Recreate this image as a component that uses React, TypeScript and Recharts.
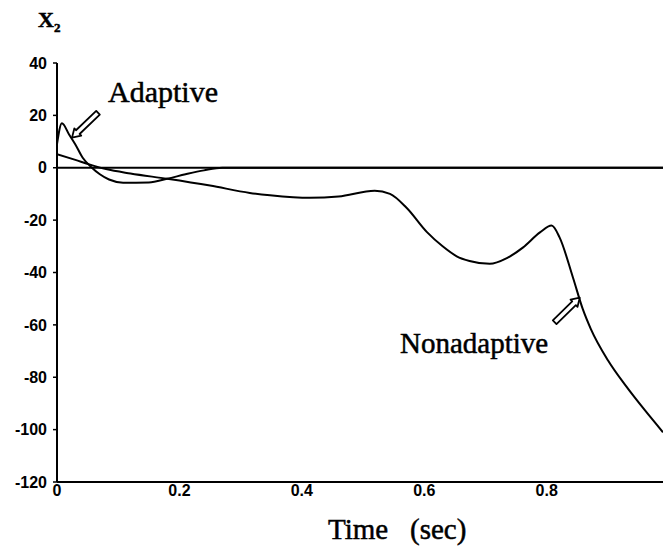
import React from "react";
import { LineChart, Line, XAxis, YAxis, ReferenceLine } from "recharts";

// x2 response of the adaptive controller
const adaptiveTime = [0, 0.008, 0.02, 0.03, 0.042, 0.057, 0.07, 0.085, 0.108, 0.15, 0.18, 0.21, 0.24, 0.27, 0.4, 0.6, 0.8, 0.99];
const adaptiveX2 = [9, 17, 12.6, 8.9, 3.8, 0, -2.5, -4.5, -5.7, -5.6, -4.2, -2.5, -1, 0, 0, 0, 0, 0];

// x2 response without adaptation
const nonadaptiveTime = [
  0, 0.03, 0.054, 0.08, 0.12, 0.18, 0.25, 0.315, 0.348, 0.413, 0.46, 0.519, 0.544, 0.571, 0.604, 0.63,
  0.653, 0.674, 0.707, 0.735, 0.761, 0.789, 0.808, 0.821, 0.843, 0.859, 0.872, 0.9, 0.93, 0.96, 0.99,
];
const nonadaptiveX2 = [
  5.2, 3.0, 1.2, -0.5, -2.2, -4.2, -6.8, -9.6, -10.5, -11.5, -11, -8.8, -10, -15.3, -24.5, -30,
  -33.8, -35.6, -36.7, -34.5, -30.5, -24.7, -22.1, -26.6, -42, -54, -61.5, -73.5, -83.5, -92.5, -101,
];

const xTicks = [0, 0.2, 0.4, 0.6, 0.8];
const yTicks = [40, 20, 0, -20, -40, -60, -80, -100, -120];

const adaptiveData = adaptiveTime.map((t, i) => ({ t, x2: adaptiveX2[i] }));
const nonadaptiveData = nonadaptiveTime.map((t, i) => ({ t, x2: nonadaptiveX2[i] }));

// hollow pointer used for the curve callouts, tip at (x2, y2)
const HollowArrow = (props: any) => {
  const { x1, y1, x2, y2 } = props;
  const len = Math.hypot(x2 - x1, y2 - y1) || 1;
  const ux = (x2 - x1) / len;
  const uy = (y2 - y1) / len;
  const nx = -uy;
  const ny = ux;
  const w = 2.6;
  const hw = 5;
  const hl = 8;
  const bx = x2 - ux * hl;
  const by = y2 - uy * hl;
  const pts = [
    [x1 + nx * w, y1 + ny * w],
    [bx + nx * w, by + ny * w],
    [bx + nx * hw, by + ny * hw],
    [x2, y2],
    [bx - nx * hw, by - ny * hw],
    [bx - nx * w, by - ny * w],
    [x1 - nx * w, y1 - ny * w],
  ];
  return (
    <polygon
      points={pts.map((p) => p.join(",")).join(" ")}
      fill="#fff"
      stroke="#000"
      strokeWidth={1.8}
      strokeLinejoin="round"
    />
  );
};

const tickStyle = {
  fontFamily: "Liberation Sans, Arial, sans-serif",
  fontWeight: 700,
  fontSize: 16,
  fill: "#000",
};

const serif = "Liberation Serif, Times New Roman, serif";

export default function App() {
  return (
    <div style={{ position: "absolute", left: 0, top: 0, width: 665, height: 556, background: "#fff" }}>
      <LineChart
        width={665}
        height={556}
        margin={{ top: 63, right: 2, bottom: 0, left: 0 }}
      >
        <XAxis
          type="number"
          dataKey="t"
          domain={[0, 0.99]}
          ticks={xTicks}
          tickFormatter={(v: number) => (v === 0 ? "0" : String(v))}
          height={74}
          tickSize={0}
          tickMargin={3}
          tick={tickStyle}
          axisLine={{ stroke: "#000", strokeWidth: 2 }}
          allowDataOverflow
        />
        <YAxis
          type="number"
          domain={[-120, 40]}
          ticks={yTicks}
          width={57}
          tickSize={4}
          tickMargin={6}
          tick={tickStyle}
          tickLine={{ stroke: "#000", strokeWidth: 1.5 }}
          axisLine={{ stroke: "#000", strokeWidth: 2 }}
          interval={0}
        />
        <ReferenceLine y={0} stroke="#000" strokeWidth={2} />
        <Line
          data={nonadaptiveData}
          dataKey="x2"
          type="monotone"
          stroke="#000"
          strokeWidth={2}
          dot={false}
          isAnimationActive={false}
        />
        <Line
          data={adaptiveData}
          dataKey="x2"
          type="monotone"
          stroke="#000"
          strokeWidth={2}
          dot={false}
          isAnimationActive={false}
        />
        <ReferenceLine
          segment={[{ x: 0.067, y: 21 }, { x: 0.0245, y: 11.5 }]}
          shape={HollowArrow}
          ifOverflow="visible"
        />
        <ReferenceLine
          segment={[{ x: 0.813, y: -59 }, { x: 0.854, y: -49.6 }]}
          shape={HollowArrow}
          ifOverflow="visible"
        />
      </LineChart>
      <svg
        width={665}
        height={556}
        style={{ position: "absolute", left: 0, top: 0, pointerEvents: "none" }}
      >
        <g fontFamily={serif} fill="#000" stroke="#000" strokeWidth={0.5}>
          <text x={38} y={27} fontWeight={700} fontSize={22}>
            X<tspan dy={5} fontSize={13}>2</tspan>
          </text>
          <text x={108} y={102} fontSize={30}>
            Adaptive
          </text>
          <text x={400} y={353} fontSize={29}>
            Nonadaptive
          </text>
          <text x={328} y={539} fontSize={29}>
            Time
          </text>
          <text x={410} y={539} fontSize={29}>
            (sec)
          </text>
        </g>
      </svg>
    </div>
  );
}
